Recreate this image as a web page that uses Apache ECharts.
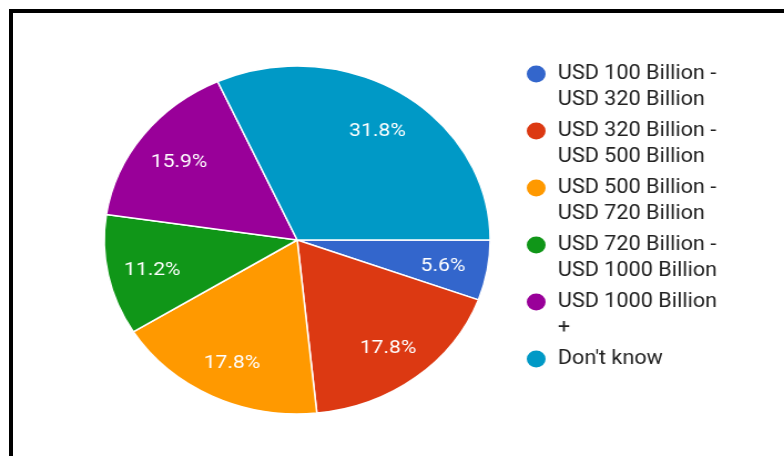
<!DOCTYPE html>
<html>
<head>
<meta charset="utf-8">
<script src="https://cdn.jsdelivr.net/npm/echarts@6/dist/echarts.min.js"></script>
<style>
  html, body { margin: 0; padding: 0; background: #fff; overflow: hidden; }
  body { width: 784px; height: 456px; position: relative; }
  /* the chart is laid out narrower and widened horizontally, giving an oval pie */
  #chart { position: absolute; left: 0; top: 0; width: 707px; height: 456px;
           transform: scaleX(1.109); transform-origin: 0 0; }
  #frame { position: absolute; left: 9px; top: 9px; right: -20px; bottom: -20px;
           border-top: 4px solid #000; border-left: 4px solid #000; pointer-events: none; }
</style>
</head>
<body>
<div id="chart"></div>
<div id="frame"></div>
<script>
// Answer categories (legend text) and their share of responses, in percent
const categories = [
  'USD 100 Billion -\nUSD 320 Billion',
  'USD 320 Billion -\nUSD 500 Billion',
  'USD 500 Billion -\nUSD 720 Billion',
  'USD 720 Billion -\nUSD 1000 Billion',
  'USD 1000 Billion\n+',
  "Don't know"
];
const shares = [5.6, 17.8, 17.8, 11.2, 15.9, 31.8];

const palette = ['#3366cc', '#dc3912', '#ff9900', '#109618', '#990099', '#0099c6'];
const font = 'Roboto, "Noto Sans", sans-serif';

const pieData = categories.map((name, i) => ({ name: name, value: shares[i] }));
const center = [268, 240];

// Every legend entry is a three-line block whose middle line sits level with the
// circle: a blank line goes above the first text line, and below a single-line entry.
function legendText(name) {
  return name.indexOf('\n') >= 0 ? ' \n' + name : ' \n' + name + '\n ';
}

const chart = echarts.init(document.getElementById('chart'), null, { renderer: 'canvas' });
chart.setOption({
  animation: false,
  color: palette,
  legend: {
    orient: 'vertical',
    left: 473,
    top: 35,
    padding: 0,
    itemGap: -21,
    itemWidth: 19,
    itemHeight: 20,
    icon: 'circle',
    selectedMode: false,
    formatter: legendText,
    textStyle: { fontFamily: font, fontSize: 19.5, lineHeight: 26, color: '#222', padding: [0, 0, 0, 5] },
    data: categories
  },
  series: [
    {
      name: 'slices',
      type: 'pie',
      center: center,
      radius: 174,
      startAngle: 0,
      clockwise: true,
      avoidLabelOverlap: false,
      label: { show: false },
      labelLine: { show: false },
      emphasis: { disabled: true },
      itemStyle: { borderColor: '#fff', borderWidth: 1.5 },
      data: pieData
    },
    {
      // transparent ring that places the percentage labels at three quarters of the radius
      name: 'labels',
      type: 'pie',
      center: center,
      radius: [87, 174],
      startAngle: 0,
      clockwise: true,
      silent: true,
      avoidLabelOverlap: false,
      itemStyle: { color: 'rgba(0,0,0,0)', borderWidth: 0 },
      emphasis: { disabled: true },
      labelLine: { show: false },
      label: {
        show: true,
        position: 'inside',
        offset: [0, 3],
        formatter: p => p.value.toFixed(1) + '%',
        color: '#fff',
        fontFamily: font,
        fontSize: 19
      },
      data: pieData
    }
  ]
});
</script>
</body>
</html>
